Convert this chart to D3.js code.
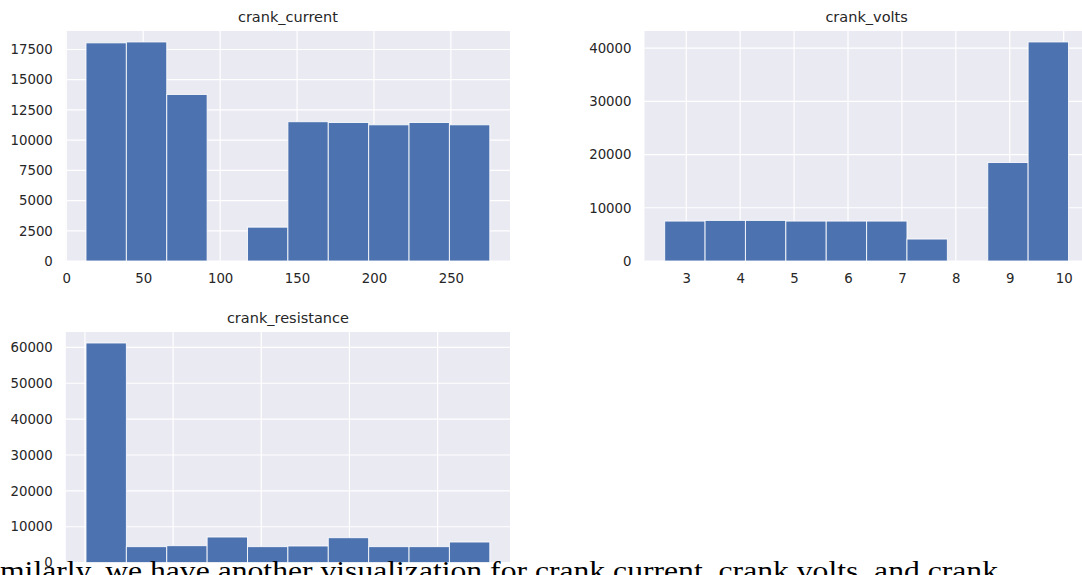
<!DOCTYPE html>
<html><head><meta charset="utf-8">
<script src="https://cdn.jsdelivr.net/npm/d3@7"></script>
<style>body{margin:0;background:#fff;overflow:hidden;} svg{display:block;}</style>
</head><body><svg id="c" width="1082" height="575"></svg>
<script>
// ---- data ----
const currentEdges  = [12.8, 39.05, 65.3, 91.55, 117.8, 144.05, 170.3, 196.55, 222.8, 249.05, 275.3];
const currentCounts = [18050, 18125, 13780, 0, 2800, 11525, 11460, 11270, 11460, 11270];
const currentXTicks = [0, 50, 100, 150, 200, 250];
const currentYTicks = [0, 2500, 5000, 7500, 10000, 12500, 15000, 17500];

const voltsEdges  = [2.60, 3.349, 4.098, 4.847, 5.596, 6.345, 7.094, 7.843, 8.592, 9.341, 10.09];
const voltsCounts = [7500, 7625, 7625, 7500, 7500, 7500, 4125, 0, 18500, 41150];
const voltsXTicks = [3, 4, 5, 6, 7, 8, 9, 10];
const voltsYTicks = [0, 10000, 20000, 30000, 40000];

const resistanceEdges  = [0.06, 2.35, 4.64, 6.93, 9.22, 11.51, 13.80, 16.09, 18.38, 20.67, 22.96];
const resistanceCounts = [61220, 4450, 4720, 7130, 4450, 4630, 6940, 4450, 4450, 5740];
const resistanceXTicks = [0, 5, 10, 15, 20];
const resistanceYTicks = [0, 10000, 20000, 30000, 40000, 50000, 60000];

const titles = ["crank_current", "crank_volts", "crank_resistance"];
const caption = "Similarly, we have another visualization for crank current, crank volts, and crank";

// ---- layout ----
const panels = [
  {title: titles[0], edges: currentEdges, counts: currentCounts, xt: currentXTicks, yt: currentYTicks, xLabels: true, box: {x0: 65.8, x1: 510, y0: 31, y1: 261}},
  {title: titles[1], edges: voltsEdges, counts: voltsCounts, xt: voltsXTicks, yt: voltsYTicks, xLabels: true, box: {x0: 644.5, x1: 1088.7, y0: 31, y1: 261}},
  {title: titles[2], edges: resistanceEdges, counts: resistanceCounts, xt: resistanceXTicks, yt: resistanceYTicks, xLabels: false, box: {x0: 65.8, x1: 510, y0: 332, y1: 562.6}}
];

const svg = d3.select("#c");
const FONT = "DejaVu Sans";
const TXT = "#262626";

panels.forEach(p => {
  const b = p.box;
  const lo = p.edges[0], hi = p.edges[p.edges.length - 1];
  const pad = (hi - lo) * 0.05;
  const x = d3.scaleLinear().domain([lo - pad, hi + pad]).range([b.x0, b.x1]);
  const y = d3.scaleLinear().domain([0, d3.max(p.counts) * 1.05]).range([b.y1, b.y0]);
  const g = svg.append("g");

  g.append("rect").attr("x", b.x0).attr("y", b.y0)
    .attr("width", b.x1 - b.x0).attr("height", b.y1 - b.y0).attr("fill", "#EAEAF2");

  // grid
  g.append("g").selectAll("line").data(p.yt).join("line")
    .attr("x1", b.x0).attr("x2", b.x1)
    .attr("y1", d => y(d)).attr("y2", d => y(d))
    .attr("stroke", "#fff").attr("stroke-width", 1.2);
  g.append("g").selectAll("line").data(p.xt).join("line")
    .attr("y1", b.y0).attr("y2", b.y1)
    .attr("x1", d => x(d)).attr("x2", d => x(d))
    .attr("stroke", "#fff").attr("stroke-width", 1.2);

  // bars
  const bins = p.counts.map((c, i) => ({x0: p.edges[i], x1: p.edges[i + 1], c}));
  g.append("g").selectAll("rect").data(bins.filter(d => d.c > 0)).join("rect")
    .attr("x", d => x(d.x0)).attr("width", d => x(d.x1) - x(d.x0))
    .attr("y", d => y(d.c)).attr("height", d => y(0) - y(d.c))
    .attr("fill", "#4C72B0").attr("stroke", "#fff").attr("stroke-opacity", 0.85).attr("stroke-width", 1);

  // axes
  const axes = [];
  axes.push(g.append("g").attr("transform", `translate(${b.x0},0)`)
    .call(d3.axisLeft(y).tickValues(p.yt).tickSize(0).tickPadding(13).tickFormat(d3.format("d"))));
  if (p.xLabels) {
    axes.push(g.append("g").attr("transform", `translate(0,${b.y1})`)
      .call(d3.axisBottom(x).tickValues(p.xt).tickSize(0).tickPadding(13).tickFormat(d3.format("d"))));
  }
  axes.forEach(a => {
    a.select(".domain").remove();
    a.selectAll("text").attr("fill", TXT).style("font-family", FONT).style("font-size", "13.3px");
  });

  g.append("text").attr("x", (b.x0 + b.x1) / 2).attr("y", b.y0 - 9)
    .attr("text-anchor", "middle").attr("fill", TXT)
    .style("font-family", FONT).style("font-size", "14.5px").text(p.title);
});

// caption overlay at the bottom (partly cut off, like the source screenshot)
const cap = svg.append("text").attr("y", 580).attr("fill", "#000")
  .style("font-family", "Liberation Serif").style("font-size", "28px").text(caption);
const fullW = cap.node().getComputedTextLength();
const tmp = svg.append("text").style("font-family", "Liberation Serif").style("font-size", "28px").text("Si");
const w0 = tmp.node().getComputedTextLength();
tmp.remove();
const sc = 998 / (fullW - w0);
cap.attr("x", -w0 * sc).attr("textLength", fullW * sc).attr("lengthAdjust", "spacingAndGlyphs");
</script>
</body></html>
